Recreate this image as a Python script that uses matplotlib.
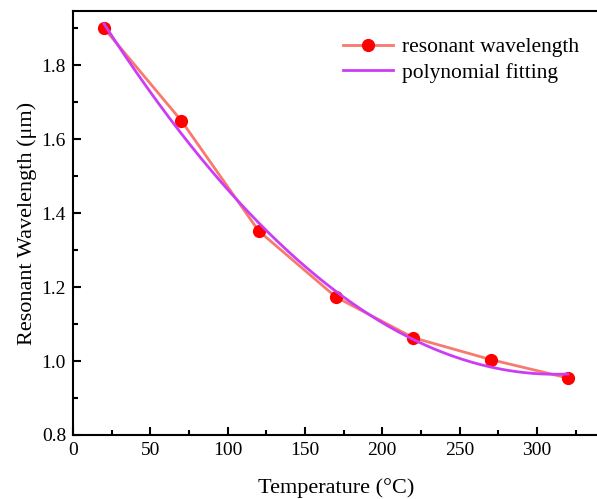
import numpy as np
import matplotlib.pyplot as plt
from matplotlib.ticker import MultipleLocator

temperature = [20, 70, 120, 170, 220, 270, 320]
wavelength = [1.90, 1.65, 1.352, 1.173, 1.063, 1.004, 0.954]

# quadratic fit of the measured points
coef = np.polyfit(temperature, wavelength, 2)
t_fit = np.linspace(temperature[0], temperature[-1], 300)
w_fit = np.polyval(coef, t_fit)

plt.rcParams['font.family'] = 'Liberation Serif'

fig = plt.figure(figsize=(5.97, 4.99), dpi=100)
ax = fig.add_axes([0.1223, 0.1283, 0.8807, 0.8487])

ax.plot(temperature, wavelength, color='#f87a6e', lw=2, marker='o',
        markersize=8.5, markerfacecolor='#ff0000', markeredgecolor='#ff0000',
        label='resonant wavelength')
ax.plot(t_fit, w_fit, color='#cc3cf5', lw=2, label='polynomial fitting')

ax.set_xlim(0, 340)
ax.set_ylim(0.8, 1.945)
ax.xaxis.set_major_locator(MultipleLocator(50))
ax.xaxis.set_minor_locator(MultipleLocator(25))
ax.yaxis.set_major_locator(MultipleLocator(0.2))
ax.yaxis.set_minor_locator(MultipleLocator(0.1))
ax.yaxis.set_major_formatter(plt.FormatStrFormatter('%.1f'))
ax.tick_params(which='both', direction='in', labelsize=14, width=1.5,
               top=False, right=False)
ax.tick_params(which='major', length=6, pad=5)
ax.tick_params(which='minor', length=3.5)
for side in ['left', 'bottom', 'top']:
    ax.spines[side].set_linewidth(1.5)
ax.spines['right'].set_visible(False)

ax.set_xlabel('Temperature (°C)', fontsize=16, labelpad=14)
ax.set_ylabel('Resonant Wavelength (μm)', fontsize=16, labelpad=3)

ax.legend(loc='upper right', bbox_to_anchor=(1.0, 0.985), frameon=False,
          fontsize=15.5, handlelength=2.3, handletextpad=0.45, labelspacing=0.25)

fig.savefig('out.png', dpi=100)
